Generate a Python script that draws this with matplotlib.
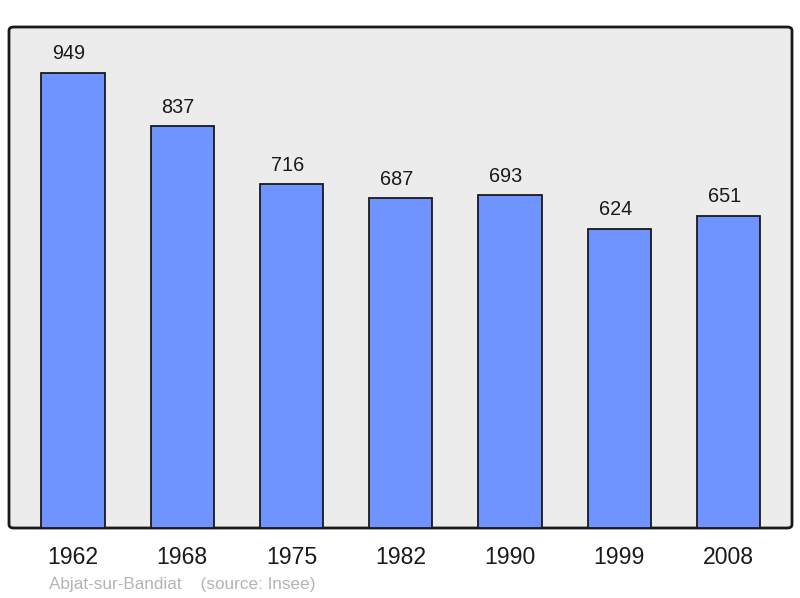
import matplotlib
matplotlib.use("Agg")
import matplotlib.pyplot as plt
from matplotlib.patches import FancyBboxPatch

years = ["1962", "1968", "1975", "1982", "1990", "1999", "2008"]
population = [949, 837, 716, 687, 693, 624, 651]
caption = "Abjat-sur-Bandiat    (source: Insee)"

plt.rcParams['font.family'] = ['Liberation Sans', 'DejaVu Sans']

fig = plt.figure(figsize=(8, 5.98), dpi=100)

# rounded frame
frame = FancyBboxPatch((9/800, 70/598), 783/800, 501/598,
                       boxstyle="round,pad=0,rounding_size=0.006",
                       transform=fig.transFigure, facecolor='#ececec',
                       edgecolor='#1a1a1a', linewidth=2, zorder=0)
fig.patches.append(frame)

ax = fig.add_axes([9/800, 70/598, 783/800, 501/598])
ax.set_zorder(2)
ax.set_facecolor('none')
for s in ax.spines.values():
    s.set_visible(False)

x = list(range(len(years)))
bars = ax.bar(x, population, width=0.58, color='#7094ff', edgecolor='#1a1a1a',
              linewidth=1.3, zorder=2)
for xi, v in zip(x, population):
    ax.annotate(str(v), (xi, v), xytext=(-3, 7), textcoords='offset points',
                ha='center', va='bottom', fontsize=14.3, color='#1a1a1a')

ax.set_xlim(-0.585, 6.58)
ax.set_ylim(0, 949 * 1.1)
ax.set_xticks(x)
ax.set_xticklabels(years, fontsize=16.6, color='#1a1a1a')
ax.tick_params(axis='x', length=0, pad=13)
ax.set_yticks([])

fig.text(49/800, 1 - 584/598, caption, fontsize=12.3, color='#b4b4b4',
         ha='left', va='center')

fig.savefig("out.png", dpi=100)
